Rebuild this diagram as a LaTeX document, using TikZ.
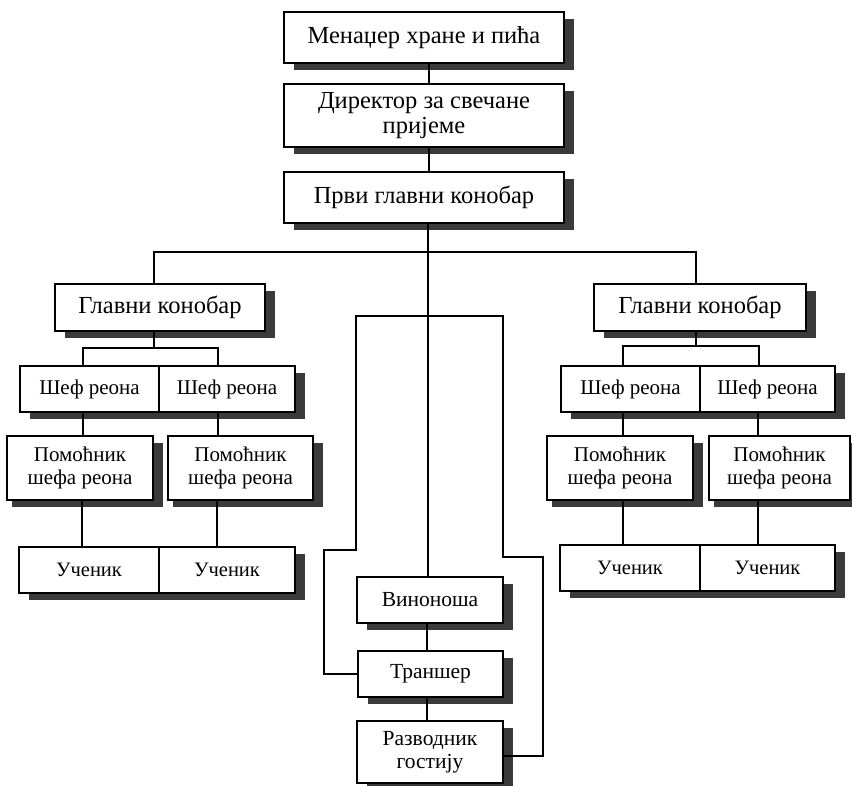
\documentclass[tikz,border=0pt]{standalone}
\usepackage{fontspec}
\setmainfont{Liberation Serif}
\usetikzlibrary{shadows,calc}
\definecolor{shadowgray}{HTML}{3A3A3A}
\begin{document}
\begin{tikzpicture}[x=1pt,y=-1pt,
  box/.style={draw, line width=2.4pt, fill=white, inner sep=0pt, align=center,
    font=\fontsize{21}{23}\selectfont,
    drop shadow={shadow xshift=10pt, shadow yshift=-7pt, fill=shadowgray, opacity=1}},
  bigbox/.style={box, font=\fontsize{24.5}{25.5}\selectfont},
  boxs/.style={box, drop shadow={shadow xshift=5pt, shadow yshift=-7pt, fill=shadowgray, opacity=1}},
  ubox/.style={box, font=\fontsize{20.5}{23}\selectfont},
  boxc/.style={box, font=\fontsize{21.5}{23}\selectfont},
  conn/.style={line width=1.6pt}]
\useasboundingbox (0,0) rectangle (852,786);
% top column
\node[bigbox, minimum width=280pt, minimum height=51pt] (top) at (424,37.5) {Менаџер хране и пића};
\node[bigbox, minimum width=280pt, minimum height=63pt] (dir) at (424,115.5) {Директор за свечане\\пријеме};
\node[bigbox, minimum width=280pt, minimum height=51pt] (prvi) at (424,197.5) {Први главни конобар};
% left subtree
\node[bigbox, minimum width=210pt, minimum height=47pt] (gl) at (160,307.5) {Главни конобар};
\node[box, minimum width=139pt, minimum height=46pt] (sl1) at (89.5,389) {Шеф реона};
\node[box, minimum width=136pt, minimum height=46pt] (sl2) at (227,389) {Шеф реона};
\node[boxs, minimum width=146pt, minimum height=64pt] (pl1) at (80,468) {Помоћник\\шефа реона};
\node[boxs, minimum width=145pt, minimum height=64pt] (pl2) at (240.5,468) {Помоћник\\шефа реона};
\node[ubox, minimum width=140pt, minimum height=46pt] (ul1) at (89,570) {Ученик};
\node[ubox, minimum width=136pt, minimum height=46pt] (ul2) at (227,570) {Ученик};
% right subtree
\node[bigbox, minimum width=212pt, minimum height=47pt] (gr) at (700,307.5) {Главни конобар};
\node[box, minimum width=139pt, minimum height=46pt] (sr1) at (630.5,389) {Шеф реона};
\node[box, minimum width=135pt, minimum height=46pt] (sr2) at (767.5,389) {Шеф реона};
\node[boxs, minimum width=146pt, minimum height=64pt] (pr1) at (620,468) {Помоћник\\шефа реона};
\node[boxs, minimum width=141pt, minimum height=64pt] (pr2) at (779.5,468) {Помоћник\\шефа реона};
\node[ubox, minimum width=140pt, minimum height=46pt] (ur1) at (630,568) {Ученик};
\node[ubox, minimum width=135pt, minimum height=46pt] (ur2) at (767.5,568) {Ученик};
% centre column
\node[boxc, minimum width=146pt, minimum height=46pt] (vin) at (430,600) {Виноноша};
\node[boxc, minimum width=145pt, minimum height=46pt] (tra) at (430.5,674) {Траншер};
\node[boxc, minimum width=146pt, minimum height=62pt] (raz) at (430,752) {Разводник\\гостију};
% helper coordinates
\coordinate (cx) at (429,0);
\coordinate (cc) at (428,0);
\coordinate (cv) at (427,0);
\coordinate (bus) at (0,252);
\coordinate (lbus) at (0,348);
\coordinate (rbus) at (0,346);
\coordinate (cbus) at (0,316);
% connectors
\draw[conn] (top.south -| cx) -- (dir.north -| cx);
\draw[conn] (dir.south -| cx) -- (prvi.north -| cx);
\draw[conn] (prvi.south -| cc) -- (vin.north -| cc);
\draw[conn] (gl.north -| 154,0) -- (bus -| 154,0) -- (bus -| 696,0) -- (gr.north -| 696,0);
% left subtree connectors
\draw[conn] (gl.south -| 154,0) -- (lbus -| 154,0);
\draw[conn] (sl1.north -| 83,0) -- (lbus -| 83,0) -- (lbus -| 218,0) -- (sl2.north -| 218,0);
\draw[conn] (sl1.south -| 83,0) -- (pl1.north -| 83,0);
\draw[conn] (sl2.south -| 218,0) -- (pl2.north -| 218,0);
\draw[conn] (pl1.south -| 82,0) -- (ul1.north -| 82,0);
\draw[conn] (pl2.south -| 217,0) -- (ul2.north -| 217,0);
% right subtree connectors
\draw[conn] (gr.south -| 696,0) -- (rbus -| 696,0);
\draw[conn] (sr1.north -| 623,0) -- (rbus -| 623,0) -- (rbus -| 759,0) -- (sr2.north -| 759,0);
\draw[conn] (sr1.south -| 623,0) -- (pr1.north -| 623,0);
\draw[conn] (sr2.south -| 758,0) -- (pr2.north -| 758,0);
\draw[conn] (pr1.south -| 623,0) -- (ur1.north -| 623,0);
\draw[conn] (pr2.south -| 758,0) -- (ur2.north -| 758,0);
% centre column connectors
\draw[conn] (vin.south -| cv) -- (tra.north -| cv);
\draw[conn] (tra.south -| cv) -- (raz.north -| cv);
\draw[conn] (tra.west) -- (324,674) -- (324,550) -- (356,550) -- (cbus -| 356,0) -- (cbus -| 503,0) -- (503,557) -- (543,557) -- (543,756) -- (raz.east |- 0,756);
\end{tikzpicture}
\end{document}
